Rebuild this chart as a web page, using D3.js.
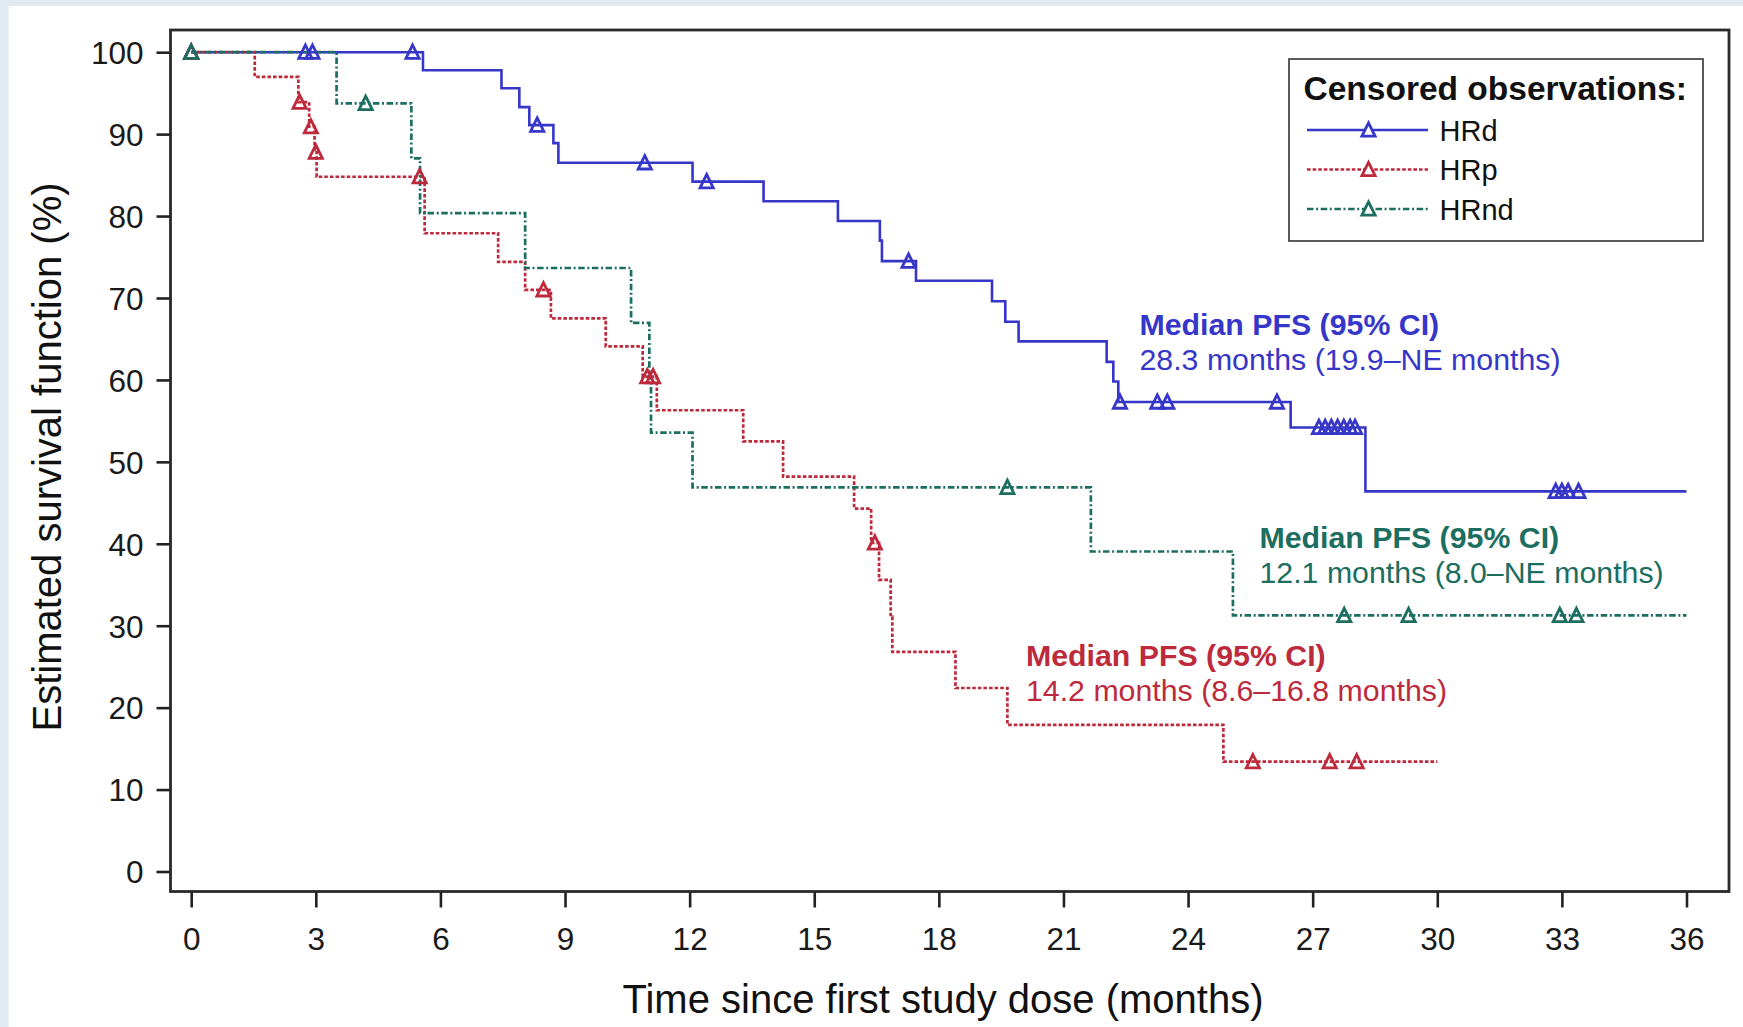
<!DOCTYPE html>
<html>
<head>
<meta charset="utf-8">
<script src="https://cdn.jsdelivr.net/npm/d3@7"></script>
<style>
  html, body { margin: 0; padding: 0; background: #e1e9f1; }
  svg { display: block; }
  text { font-family: "Liberation Sans", Arial, Helvetica, sans-serif; }
</style>
</head>
<body>
<svg id="chart" width="1743" height="1027"></svg>
<script>
// Axis ticks
const xTicks = [0, 3, 6, 9, 12, 15, 18, 21, 24, 27, 30, 33, 36];
const yTicks = [0, 10, 20, 30, 40, 50, 60, 70, 80, 90, 100];

// Group names
const groups = ["HRd", "HRp", "HRnd"];

// HRd: event times (months) and Kaplan–Meier estimate after each event (%)
const hrdTimes = [5.58, 7.47, 7.90, 8.14, 8.72, 8.84, 12.07, 13.78, 15.57, 16.58, 16.63, 17.45, 19.28, 19.60, 19.92, 22.04, 22.20, 22.32, 26.47, 28.27];
const hrdSurv  = [97.8, 95.6, 93.3, 91.1, 88.9, 86.5, 84.2, 81.8, 79.4, 77.0, 74.5, 72.1, 69.6, 67.1, 64.7, 62.2, 59.8, 57.3, 54.2, 46.4];
const hrdCensored = [0, 2.75, 2.92, 5.33, 8.33, 10.92, 12.41, 17.27, 22.36, 23.26, 23.50, 26.14, 27.15, 27.30, 27.45, 27.60, 27.75, 27.90, 28.02, 32.85, 33.00, 33.15, 33.40];
const hrdLastFollowUp = 36;

// HRp
const hrpTimes = [1.53, 2.58, 2.84, 2.97, 3.02, 5.62, 7.39, 8.04, 8.66, 9.98, 10.87, 11.21, 13.29, 14.25, 15.96, 16.37, 16.56, 16.84, 16.88, 18.40, 19.65, 24.85];
const hrpSurv  = [97.0, 93.9, 90.9, 87.8, 84.8, 77.9, 74.4, 71.0, 67.5, 64.1, 60.4, 56.3, 52.5, 48.2, 44.3, 40.1, 35.6, 31.1, 26.8, 22.4, 17.9, 13.4];
const hrpCensored = [0, 2.61, 2.88, 3.00, 5.50, 8.48, 10.98, 11.12, 16.46, 25.56, 27.41, 28.06];
const hrpLastFollowUp = 30.0;

// HRnd
const hrndTimes = [3.50, 5.30, 5.51, 8.04, 10.59, 11.03, 11.07, 12.07, 21.66, 25.08];
const hrndSurv  = [93.75, 87.05, 80.36, 73.66, 66.96, 60.27, 53.57, 46.88, 39.06, 31.25];
const hrndCensored = [0, 4.20, 19.65, 27.76, 29.31, 32.95, 33.35];
const hrndLastFollowUp = 36;

// Median PFS annotations
const medianHeading = "Median PFS (95% CI)";
const hrdMedian  = "28.3 months (19.9–NE months)";
const hrpMedian  = "14.2 months (8.6–16.8 months)";
const hrndMedian = "12.1 months (8.0–NE months)";

const legendTitle = "Censored observations:";
const xTitle = "Time since first study dose (months)";
const yTitle = "Estimated survival function (%)";

// ---------------------------------------------------------------------------
const svg = d3.select("#chart");
const W = 1743, H = 1027;

// white panel
svg.append("rect").attr("x", 8.5).attr("y", 6).attr("width", W - 8.5).attr("height", H - 6).attr("fill", "#ffffff");

const frame = { left: 170.5, right: 1729, top: 30, bottom: 891.5 };

const x = d3.scaleLinear().domain([0, 36]).range([191.2, 1686.5]);
const y = d3.scaleLinear().domain([0, 100]).range([871.5, 52.2]);

const series = [
  { name: groups[0], times: hrdTimes,  surv: hrdSurv,  censored: hrdCensored,  end: hrdLastFollowUp,
    color: "#3636c9", dash: null, median: hrdMedian, labelX: 1139.5, labelY: 335 },
  { name: groups[1], times: hrpTimes,  surv: hrpSurv,  censored: hrpCensored,  end: hrpLastFollowUp,
    color: "#bd2a3c", dash: "3.6,2", median: hrpMedian, labelX: 1026, labelY: 666 },
  { name: groups[2], times: hrndTimes, surv: hrndSurv, censored: hrndCensored, end: hrndLastFollowUp,
    color: "#1c6e60", dash: "6.5,2.6,2,2.6", median: hrndMedian, labelX: 1259.5, labelY: 548 }
];

// step-function value at time t
function survivalAt(s, t) {
  let v = 100;
  for (let i = 0; i < s.times.length; i++) {
    if (s.times[i] <= t) v = s.surv[i]; else break;
  }
  return v;
}

const stepLine = d3.line()
  .x(d => x(d[0]))
  .y(d => y(d[1]))
  .curve(d3.curveStepAfter);

const triPath = "M0,-7.2 L6.6,6.2 L-6.6,6.2 Z";

// axes
const yAxis = d3.axisLeft(y).tickValues(yTicks).tickSize(14).tickPadding(13).tickFormat(d3.format("d"));
const xAxis = d3.axisBottom(x).tickValues(xTicks).tickSize(16).tickPadding(20).tickFormat(d3.format("d"));

const gy = svg.append("g").attr("transform", `translate(${frame.left},0)`).call(yAxis);
const gx = svg.append("g").attr("transform", `translate(0,${frame.bottom})`).call(xAxis);
[gy, gx].forEach(g => {
  g.select(".domain").remove();
  g.selectAll(".tick line").attr("stroke", "#222").attr("stroke-width", 2.6);
  g.selectAll(".tick text").attr("fill", "#1a1a1a").style("font-size", "31.5px");
});
gx.selectAll(".tick text").attr("dy", "0.71em");
gy.selectAll(".tick text").attr("dy", "0.36em");

// curves
const curves = svg.append("g");
series.forEach(s => {
  const pts = [[0, 100]];
  s.times.forEach((t, i) => pts.push([t, s.surv[i]]));
  pts.push([s.end, s.surv[s.surv.length - 1]]);
  curves.append("path")
    .attr("d", stepLine(pts))
    .attr("fill", "none")
    .attr("stroke", s.color)
    .attr("stroke-width", s.dash ? 2.7 : 2.6)
    .attr("stroke-dasharray", s.dash);
});

// censoring marks
series.forEach(s => {
  curves.append("g").selectAll("path")
    .data(s.censored)
    .join("path")
    .attr("d", triPath)
    .attr("transform", t => `translate(${x(t)},${y(survivalAt(s, t))})`)
    .attr("fill", "none")
    .attr("stroke", s.color)
    .attr("stroke-width", 2.8)
    .attr("stroke-linejoin", "miter");
});

// frame
svg.append("rect")
  .attr("x", frame.left).attr("y", frame.top)
  .attr("width", frame.right - frame.left).attr("height", frame.bottom - frame.top)
  .attr("fill", "none").attr("stroke", "#2a2a2a").attr("stroke-width", 2.8);

// median annotations
series.forEach(s => {
  const t = svg.append("text").attr("x", s.labelX).attr("y", s.labelY).attr("fill", s.color).style("font-size", "30.3px");
  t.append("tspan").attr("font-weight", "bold").text(medianHeading);
  t.append("tspan").attr("x", s.labelX).attr("dy", 35).text(s.median);
});

// legend
const lg = svg.append("g");
lg.append("rect").attr("x", 1289).attr("y", 59).attr("width", 414).attr("height", 182)
  .attr("fill", "#fff").attr("stroke", "#333").attr("stroke-width", 1.6);
lg.append("text").attr("x", 1303.5).attr("y", 100).attr("font-weight", "bold")
  .attr("fill", "#111").style("font-size", "33.5px").text(legendTitle);
series.forEach((s, i) => {
  const cy = 130 + i * 39.5;
  lg.append("line").attr("x1", 1307).attr("x2", 1428).attr("y1", cy).attr("y2", cy)
    .attr("stroke", s.color).attr("stroke-width", s.dash ? 2.7 : 2.6).attr("stroke-dasharray", s.dash);
  lg.append("path").attr("d", triPath).attr("transform", `translate(1368.5,${cy})`)
    .attr("fill", "#fff").attr("stroke", s.color).attr("stroke-width", 2.8);
  lg.append("text").attr("x", 1439.5).attr("y", cy + 10.5).attr("fill", "#111")
    .style("font-size", "29px").text(s.name);
});

// axis titles
svg.append("text").attr("x", 943).attr("y", 1013).attr("text-anchor", "middle")
  .attr("fill", "#111").style("font-size", "40px").text(xTitle);
svg.append("text").attr("transform", "translate(61,457) rotate(-90)").attr("text-anchor", "middle")
  .attr("fill", "#111").style("font-size", "40px").text(yTitle);
</script>
</body>
</html>
